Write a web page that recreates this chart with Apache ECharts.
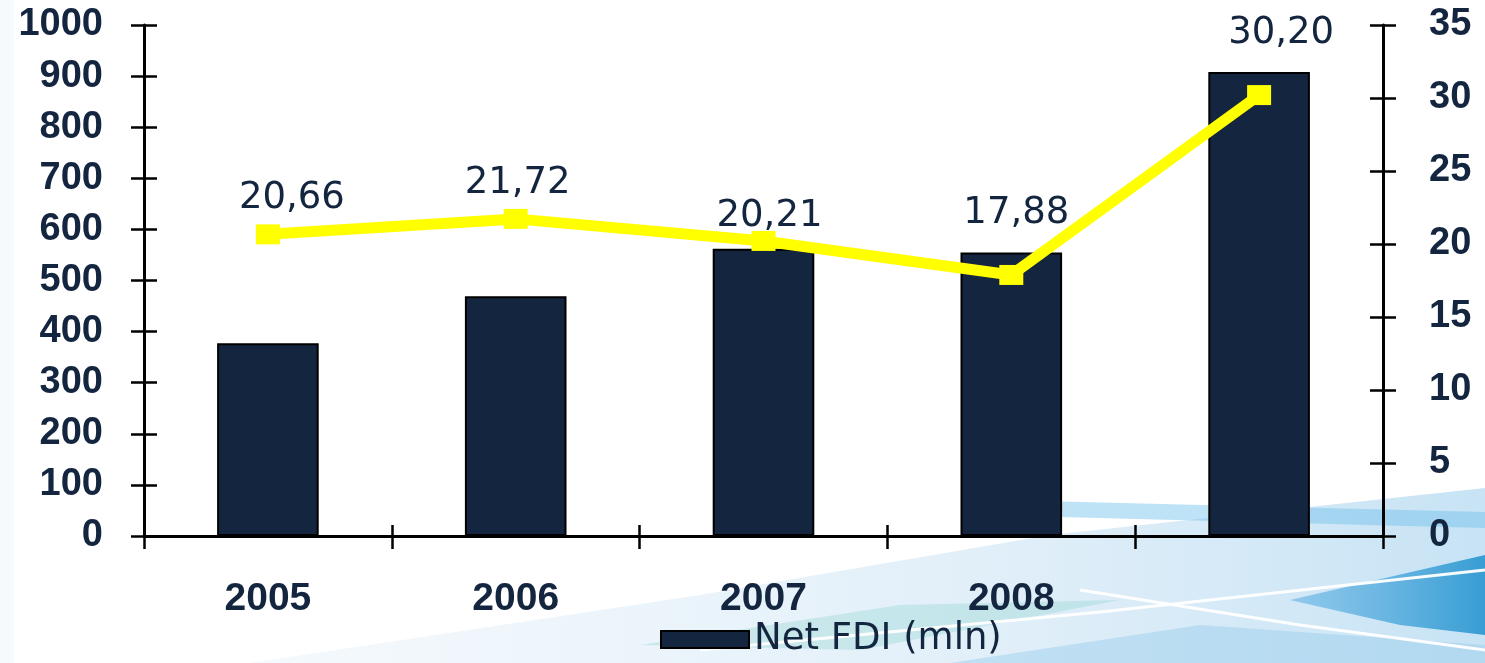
<!DOCTYPE html>
<html>
<head>
<meta charset="utf-8">
<script src="https://cdn.jsdelivr.net/npm/echarts@6/dist/echarts.min.js"></script>
<style>
html,body{margin:0;padding:0;background:#ffffff;}
#c{width:1485px;height:663px;}
</style>
</head>
<body>
<div id="c"></div>
<script>
const categories = ['2005', '2006', '2007', '2008', ''];
const netFdi = [377, 469, 562, 555, 908];
const ratio = [20.66, 21.72, 20.21, 17.88, 30.20];
const ratioLabels = ['20,66', '21,72', '20,21', '17,88', '30,20'];
const leftTicks = {min: 0, max: 1000, interval: 100};
const rightTicks = {min: 0, max: 35, interval: 5};

const NAVY = '#13253f';
const FONT = 'DejaVu Sans';
const AXFONT = 'Liberation Sans';
const labelShift = [[24, -2], [2, -2], [6, 9], [5, -28], [22, -28]];

const chart = echarts.init(document.getElementById('c'), null, {renderer: 'canvas'});

function yAx(pos, ticks, labelled) {
  return {
    type: 'value', position: pos, min: ticks.min, max: ticks.max, interval: ticks.interval,
    axisLine: {show: labelled, lineStyle: {color: '#000', width: 3}},
    axisTick: {show: true, inside: !labelled, length: 13, lineStyle: {color: '#000', width: 2.5}},
    axisLabel: {show: labelled, color: NAVY, fontFamily: AXFONT, fontWeight: 'bold', fontSize: 38,
      margin: pos === 'left' ? 41 : 46, formatter: v => String(v)},
    splitLine: {show: false}
  };
}

const option = {
  backgroundColor: '#ffffff',
  animation: false,
  graphic: [
    {type: 'polygon', z: -10, silent: true,
      shape: {points: [[250, 663], [700, 595], [1050, 535], [1485, 488], [1485, 663]]},
      style: {fill: {type: 'linear', x: 0, y: 0, x2: 1, y2: 0, colorStops: [
        {offset: 0, color: 'rgba(225,238,248,0.35)'}, {offset: 0.6, color: 'rgba(205,228,245,0.6)'},
        {offset: 1, color: 'rgba(185,220,242,0.8)'}]}}},
    {type: 'polygon', z: -9, silent: true,
      shape: {points: [[640, 645], [900, 605], [1120, 600], [860, 650]]},
      style: {fill: 'rgba(140,212,205,0.35)'}},
    {type: 'polygon', z: -9, silent: true,
      shape: {points: [[1000, 500], [1485, 512], [1485, 528], [1060, 517]]},
      style: {fill: 'rgba(110,190,235,0.45)'}},
    {type: 'polygon', z: -9, silent: true,
      shape: {points: [[1290, 600], [1485, 555], [1485, 635], [1400, 625]]},
      style: {fill: {type: 'linear', x: 0, y: 0, x2: 1, y2: 0, colorStops: [
        {offset: 0, color: 'rgba(80,170,225,0.5)'}, {offset: 1, color: 'rgba(30,145,205,0.85)'}]}}},
    {type: 'polygon', z: -9, silent: true,
      shape: {points: [[950, 663], [1200, 625], [1485, 645], [1485, 663]]},
      style: {fill: 'rgba(150,205,235,0.45)'}},
    {type: 'polyline', z: -8, silent: true,
      shape: {points: [[700, 650], [1100, 612], [1485, 570]]},
      style: {stroke: 'rgba(255,255,255,0.95)', lineWidth: 3}},
    {type: 'polyline', z: -8, silent: true,
      shape: {points: [[1080, 590], [1300, 625], [1485, 650]]},
      style: {stroke: 'rgba(255,255,255,0.95)', lineWidth: 3}},
    {type: 'rect', z: -10, silent: true, shape: {x: 0, y: 0, width: 14, height: 663},
      style: {fill: 'rgba(225,240,250,0.35)'}}
  ],
  grid: {left: 144, right: 102, top: 25, bottom: 127, containLabel: false},
  legend: {
    data: ['Net FDI (mln)'], left: 655, top: 616, itemWidth: 88, itemHeight: 17, itemGap: 12,
    icon: 'rect',
    textStyle: {color: NAVY, fontFamily: FONT, fontSize: 37}
  },
  xAxis: [
    {type: 'category', data: categories, position: 'bottom', boundaryGap: true,
      axisLine: {lineStyle: {color: '#000', width: 3}},
      axisTick: {show: true, length: 13, alignWithLabel: false, lineStyle: {color: '#000', width: 2.5}},
      axisLabel: {color: NAVY, fontFamily: AXFONT, fontWeight: 'bold', fontSize: 39, margin: 44, interval: 0}},
    {type: 'category', data: categories, position: 'bottom', boundaryGap: true,
      axisLine: {show: false},
      axisTick: {show: true, inside: true, length: 11, lineStyle: {color: '#000', width: 2.5}},
      axisLabel: {show: false}}
  ],
  yAxis: [
    yAx('left', leftTicks, true),
    yAx('right', rightTicks, true),
    yAx('left', leftTicks, false),
    yAx('right', rightTicks, false)
  ],
  series: [
    {name: 'Net FDI (mln)', type: 'bar', data: netFdi, yAxisIndex: 0, xAxisIndex: 0, barWidth: '41%',
      itemStyle: {color: NAVY, borderColor: '#000', borderWidth: 2}},
    {name: 'ratio', type: 'line', yAxisIndex: 1, xAxisIndex: 0,
      data: ratio.map((v, i) => ({value: v, label: {offset: labelShift[i]}})),
      symbol: 'rect', symbolSize: [24, 20],
      lineStyle: {color: '#ffff00', width: 11},
      itemStyle: {color: '#ffff00'},
      label: {show: true, position: 'top', distance: 5, color: NAVY, fontFamily: FONT, fontSize: 37,
        formatter: p => ratioLabels[p.dataIndex]},
      z: 5}
  ]
};
chart.setOption(option);
</script>
</body>
</html>
